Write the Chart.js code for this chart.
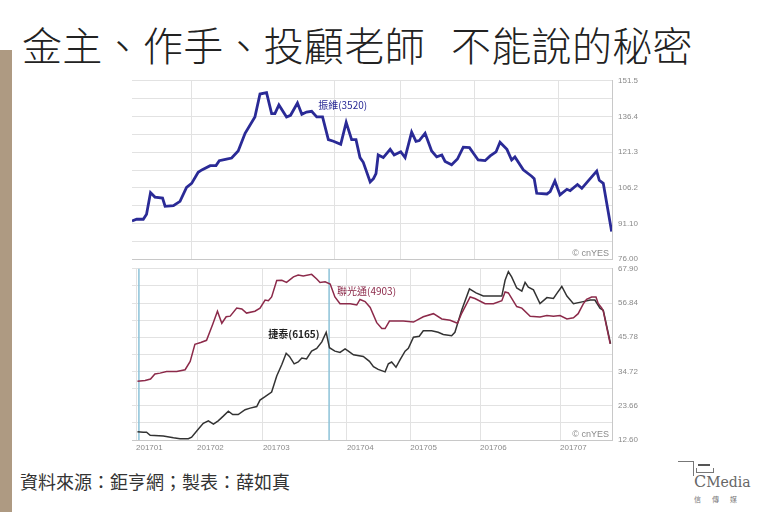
<!DOCTYPE html>
<html>
<head>
<meta charset="utf-8">
<title>金主、作手、投顧老師 不能說的秘密</title>
<script src="https://cdn.jsdelivr.net/npm/chart.js@4"></script>
<style>
  body { margin: 0; width: 768px; height: 512px; background: #fff; position: relative; overflow: hidden;
         font-family: "Noto Sans CJK TC", "Noto Sans", sans-serif; }
  #title { position: absolute; left: 22px; top: 22px; font-size: 40px; line-height: 44px; font-weight: 300; color: #222; white-space: nowrap; letter-spacing: 0.3px; }
  #title .gap { display: inline-block; width: 26px; }
  #bar { position: absolute; left: 0; top: 50px; width: 12px; height: 462px; background: #ae9a82; }
  #source { position: absolute; left: 20px; top: 468px; font-size: 18px; color: #333; }
  .box { position: absolute; }
  #logo { position: absolute; left: 676px; top: 458px; width: 80px; height: 50px; color: #555; }
</style>
</head>
<body>
<div id="bar"></div>
<div id="title">金主、作手、投顧老師<span class="gap"> </span>不能說的秘密</div>

<div class="box" style="left:130px;top:70px;width:520px;height:200px;">
  <canvas id="top" width="520" height="200"></canvas>
</div>
<div class="box" style="left:130px;top:258px;width:520px;height:195px;">
  <canvas id="bottom" width="520" height="195"></canvas>
</div>

<div id="source">資料來源：鉅亨網；製表：薛如真</div>

<div id="logo">
  <div style="position:absolute;left:2px;top:3px;width:15px;border-top:1px solid #777;"></div>
  <div style="position:absolute;left:17px;top:3px;height:15px;border-left:1px solid #777;"></div>
  <div style="position:absolute;left:22px;top:6px;width:12px;border-top:2px solid #555;"></div>
  <div style="position:absolute;left:20px;top:10px;width:16px;height:4px;border:1px solid #777;border-top:none;"></div>
  <div style="position:absolute;left:18px;top:14px;font:16px 'DejaVu Serif',serif;color:#666;letter-spacing:0px;">C<span style="font-size:14px;">Media</span></div>
  <div style="position:absolute;left:18px;top:36px;font-size:7px;color:#777;letter-spacing:11px;">信傳媒</div>
</div>

<script>
// x positions are trading-day counts from early Jan 2017
var topDays = [0,1.3,3.1,4.0,5.1,6.3,8.4,9.1,11.4,13.2,
  15.0,16.4,18.2,19.2,21.5,23.1,24.0,26.0,27.4,29.2,
  31.1,33.8,35.2,37.0,38.4,39.3,40.4,42.5,43.6,45.5,
  46.7,48.0,49.4,50.8,52.4,54.0,55.4,57.4,58.9,60.4,
  61.6,62.7,63.6,65.5,66.4,67.1,67.7,69.1,71.0,72.1,
  73.9,75.1,76.9,78.1,79.0,80.6,82.4,83.8,85.2,86.1,
  87.9,89.5,91.1,92.8,95.2,97.1,98.5,100.1,101.2,103.1,
  104.4,105.3,107.6,109.9,110.6,111.3,114.1,115.0,116.3,117.7,
  119.6,120.5,122.5,123.7,126.0,127.8,128.5,129.6,131.9];
// 振維(3520)
var topVals = [92.2,92.9,92.9,95.0,104.2,102.3,101.9,98.4,98.7,100.5,
  106.4,108.1,112.8,113.8,115.6,115.6,117.7,118.4,118.8,121.8,
  129.3,136.2,145.9,146.5,137.6,137.6,141.3,136.2,136.9,142.1,
  137.3,138.3,138.6,136.2,136.2,126.6,125.9,124.6,133.9,126.6,
  126.6,119.0,117.0,108.7,110.1,112.2,120.1,119.0,122.5,120.1,
  121.5,119.0,129.8,125.9,126.2,129.3,121.8,119.3,120.1,117.4,
  116.0,118.4,123.4,123.2,118.0,117.7,119.7,121.4,125.5,122.5,
  118.0,119.3,113.8,111.1,110.1,103.9,103.6,104.6,109.1,103.2,
  105.6,105.0,107.6,106.0,110.1,113.3,109.4,108.1,87.7];

// 聯光通(4903)
var lgtDays = [1.5,3.6,5.1,6.3,7.7,9.5,12.3,14.6,16.0,17.3,
  18.9,20.5,22.2,23.5,24.7,25.9,27.0,28.8,30.2,31.5,
  33.8,35.2,36.6,37.5,38.4,39.8,41.2,42.5,44.4,45.7,
  47.1,49.4,50.8,51.7,53.1,54.5,55.8,57.2,60.0,61.8,
  62.7,64.1,65.5,67.3,68.7,69.6,70.8,74.6,77.4,80.1,
  82.9,85.2,87.5,89.5,90.7,93.0,94.3,97.1,99.4,101.7,
  102.6,103.5,105.8,107.2,109.5,112.2,114.1,115.9,117.7,119.6,
  121.4,122.7,124.1,125.0,126.4,127.6,128.2,129.2,129.6,131.5];
var lgtVals = [31.6,31.8,32.3,33.9,34.2,34.7,34.7,35.3,38.0,43.5,
  44.1,44.8,50.0,54.2,50.3,52.4,52.6,55.2,54.9,53.6,
  54.2,55.2,57.8,57.6,58.8,64.1,64.2,63.5,65.3,65.9,
  65.6,66.1,64.6,63.5,63.7,63.0,58.8,56.6,56.6,56.2,
  58.0,57.3,55.4,50.5,48.6,48.6,51.0,51.0,50.7,52.4,
  53.4,51.7,51.3,50.3,53.6,58.8,58.3,56.6,56.6,57.6,
  60.4,60.1,55.7,55.2,52.6,52.3,52.8,52.6,52.8,51.7,
  52.1,53.4,56.6,58.0,58.8,58.8,56.7,55.2,54.2,43.7];

// 捷泰(6165)
var jtDays = [1.5,3.1,4.0,5.0,8.6,11.4,13.2,15.5,16.4,18.2,
  19.6,21.0,22.4,23.7,25.1,26.5,27.7,29.2,31.1,32.5,
  34.3,35.2,36.6,38.4,39.8,41.2,42.4,43.3,44.6,45.7,
  46.7,48.0,49.4,50.8,52.2,53.4,54.3,55.8,57.2,58.6,
  59.5,60.9,63.6,65.3,66.4,67.7,69.6,70.5,71.4,72.6,
  73.7,75.1,76.0,77.4,79.0,80.1,82.4,84.2,85.6,87.9,
  88.8,90.7,92.8,94.6,96.6,101.7,102.6,103.5,104.4,105.8,
  107.2,108.1,109.0,110.4,112.2,114.1,115.9,116.8,118.2,119.6,
  121.4,124.1,126.0,127.3,128.7,129.6,131.6];
var jtVals = [15.3,15.1,15.1,14.1,13.9,13.3,13.0,13.0,13.5,16.1,
  18.0,18.8,17.7,18.8,20.3,21.9,20.8,20.8,22.4,22.9,
  23.4,25.5,26.6,28.1,33.3,37.0,40.6,39.6,37.2,37.8,
  39.1,38.8,41.3,42.2,44.3,47.4,42.4,41.3,40.9,42.0,
  41.3,40.1,39.6,38.0,36.3,35.4,34.6,37.2,37.8,36.1,
  38.5,41.3,42.2,45.8,46.1,47.9,47.9,47.4,46.7,46.3,
  47.4,54.7,61.4,60.1,59.1,59.1,64.2,67.0,65.3,61.7,
  60.7,63.5,62.0,61.1,56.7,58.6,58.3,59.9,62.2,59.1,
  56.6,57.3,57.8,57.8,55.2,54.5,43.7];

// axis ticks
var topTickLabels = ['76.00','91.10','106.2','121.3','136.4','151.5'];
var bottomTickLabels = ['12.60','23.66','34.72','45.78','56.84','67.90'];
var topGridDays = [16.4, 55.6, 73.7, 94.3, 117.2];
var monthDays = [1.1, 17.9, 36.0, 59.1, 76.5, 95.7, 117.7];
var monthLabels = ['201701','201702','201703','201704','201705','201706','201707'];
var markerDays = [1.9, 54.2];

function pts(xs, ys) {
  return xs.map(function (d, i) { return { x: d, y: ys[i] }; });
}

// 11 grid values, labels on every second one
function yTicks(min, max) {
  var t = [];
  for (var i = 0; i <= 10; i++) t.push({ value: min + (max - min) * i / 10 });
  return t;
}

var gridColor = '#e2e2e2';
var tickFont = { family: 'Liberation Sans', size: 8 };

// draws the name tags, cnYES mark and blue marker lines
var notes = {
  id: 'notes',
  beforeDatasetsDraw: function (chart, args, opts) {
    if (!opts.markers) return;
    var ctx = chart.ctx, a = chart.chartArea;
    ctx.save();
    ctx.strokeStyle = '#8cc2d8';
    ctx.lineWidth = 1.5;
    opts.markers.forEach(function (d) {
      var x = chart.scales.x.getPixelForValue(d);
      ctx.beginPath(); ctx.moveTo(x, a.top); ctx.lineTo(x, a.bottom); ctx.stroke();
    });
    ctx.restore();
  },
  afterDatasetsDraw: function (chart, args, opts) {
    var ctx = chart.ctx, a = chart.chartArea;
    ctx.save();
    (opts.tags || []).forEach(function (t) {
      ctx.font = (t.bold ? 'bold ' : '') + '10px "Noto Sans CJK TC", sans-serif';
      ctx.fillStyle = t.color;
      ctx.textAlign = 'left';
      ctx.textBaseline = 'middle';
      ctx.fillText(t.text, chart.scales.x.getPixelForValue(t.x), chart.scales.y.getPixelForValue(t.y));
    });
    ctx.font = '9px "Liberation Sans", sans-serif';
    ctx.fillStyle = '#8a8a8a';
    ctx.textAlign = 'right';
    ctx.textBaseline = 'bottom';
    ctx.fillText('© cnYES', a.right - 3, a.bottom - 1);
    ctx.restore();
  }
};

function makeOptions(cfg) {
  return {
    responsive: false,
    animation: false,
    layout: { padding: cfg.padding },
    plugins: { legend: { display: false }, tooltip: { enabled: false }, notes: cfg.notes },
    elements: { point: { radius: 0 }, line: { tension: 0 } },
    scales: {
      x: {
        type: 'linear', min: 0, max: 132,
        afterBuildTicks: function (s) { s.ticks = cfg.xGrid.map(function (v) { return { value: v }; }); },
        afterFit: function (s) { s.height = cfg.xHeight; },
        grid: { color: gridColor, drawTicks: false },
        border: { color: '#c8c8c8' },
        ticks: {
          display: cfg.xLabels !== null, align: 'start', padding: 3, autoSkip: false, maxRotation: 0,
          color: '#8a8a8a', font: tickFont,
          callback: function (v, i) { return cfg.xLabels ? cfg.xLabels[i] : ''; }
        }
      },
      y: {
        position: 'right', min: cfg.yMin, max: cfg.yMax,
        afterBuildTicks: function (s) { s.ticks = yTicks(cfg.yMin, cfg.yMax); },
        afterFit: function (s) { s.width = 38; },
        grid: { color: gridColor, drawTicks: false },
        border: { color: '#c8c8c8' },
        ticks: {
          padding: 6, color: '#8a8a8a', font: tickFont, autoSkip: false,
          callback: function (v, i) { return i % 2 === 0 ? cfg.yLabels[i / 2] : ''; }
        }
      }
    }
  };
}

new Chart(document.getElementById('top'), {
  type: 'line',
  data: {
    datasets: [{
      label: '振維(3520)', data: pts(topDays, topVals),
      borderColor: '#2a2a96', borderWidth: 2.8, fill: false
    }]
  },
  options: makeOptions({
    padding: { left: 2, top: 8, right: 0, bottom: 9 },
    xGrid: topGridDays, xLabels: null, xHeight: 0,
    yMin: 76, yMax: 151.5, yLabels: topTickLabels,
    notes: { tags: [{ text: '振維(3520)', x: 51.2, y: 141.2, color: '#2a2a96' }] }
  }),
  plugins: [notes]
});

new Chart(document.getElementById('bottom'), {
  type: 'line',
  data: {
    datasets: [{
      label: '聯光通(4903)', data: pts(lgtDays, lgtVals),
      borderColor: '#8c2a4a', borderWidth: 1.5, fill: false
    }, {
      label: '捷泰(6165)', data: pts(jtDays, jtVals),
      borderColor: '#333333', borderWidth: 1.5, fill: false
    }]
  },
  options: makeOptions({
    padding: { left: 2, top: 5, right: 0, bottom: 0 },
    xGrid: monthDays, xLabels: monthLabels, xHeight: 13,
    yMin: 12.6, yMax: 67.9, yLabels: bottomTickLabels,
    notes: {
      markers: markerDays,
      tags: [
        { text: '聯光通(4903)', x: 56.4, y: 60.7, color: '#8c2a4a' },
        { text: '捷泰(6165)', x: 37.5, y: 46.7, color: '#222222', bold: true }
      ]
    }
  }),
  plugins: [notes]
});
</script>
</body>
</html>
